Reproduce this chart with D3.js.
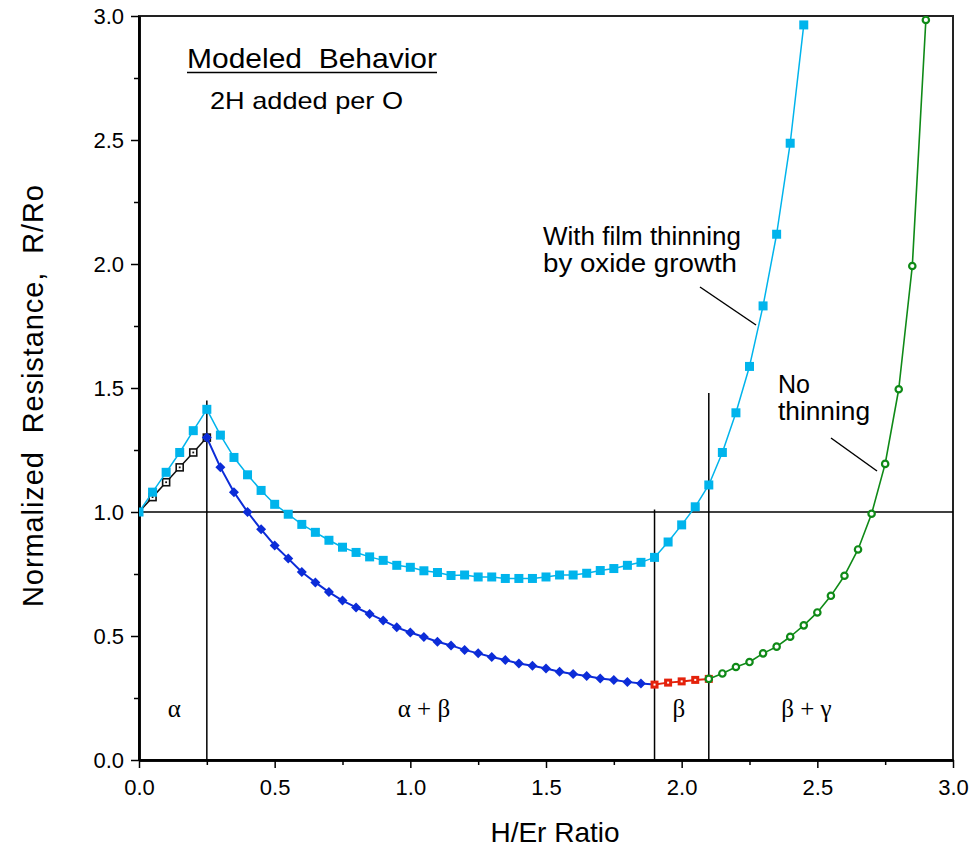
<!DOCTYPE html>
<html>
<head>
<meta charset="utf-8">
<script src="https://cdn.jsdelivr.net/npm/d3@7"></script>
<style>
  html, body { margin: 0; padding: 0; background: #fff; }
  svg { display: block; }
  text { font-family: "Liberation Sans", Arial, Helvetica, sans-serif; fill: #000; }
  .greek { font-family: "Liberation Serif", "Times New Roman", serif; }
</style>
</head>
<body>
<svg id="chart" width="977" height="851"></svg>
<script>
// H/Er ratio sampled every 0.05; modeled normalized resistance R/Ro

// alpha phase, no thinning (0 – 0.25)
const alphaX = [0, 0.05, 0.10, 0.15, 0.20, 0.25];
const alphaR = [1.00, 1.06, 1.12, 1.18, 1.24, 1.30];

// alpha + beta, no thinning (0.25 – 1.85)
const abX = [0.25, 0.30, 0.35, 0.40, 0.45, 0.50, 0.55, 0.60, 0.65, 0.70, 0.75, 0.80,
             0.85, 0.90, 0.95, 1.00, 1.05, 1.10, 1.15, 1.20, 1.25, 1.30, 1.35, 1.40,
             1.45, 1.50, 1.55, 1.60, 1.65, 1.70, 1.75, 1.80, 1.85];
const abR = [1.30, 1.18, 1.08, 1.00, 0.93, 0.865, 0.812, 0.758, 0.716, 0.677, 0.643, 0.615,
             0.589, 0.563, 0.535, 0.514, 0.496, 0.477, 0.462, 0.444, 0.430, 0.415, 0.403, 0.389,
             0.380, 0.369, 0.356, 0.347, 0.339, 0.329, 0.323, 0.315, 0.308];

// beta phase, no thinning (1.9 – 2.1)
const betaX = [1.90, 1.95, 2.00, 2.05, 2.10];
const betaR = [0.304, 0.312, 0.317, 0.323, 0.327];

// beta + gamma, no thinning (2.1 – 2.9)
const bgX = [2.10, 2.15, 2.20, 2.25, 2.30, 2.35, 2.40, 2.45, 2.50, 2.55, 2.60, 2.65,
             2.70, 2.75, 2.80, 2.85, 2.90];
const bgR = [0.327, 0.349, 0.375, 0.395, 0.430, 0.457, 0.497, 0.543, 0.595, 0.662, 0.743, 0.849,
             0.993, 1.194, 1.495, 1.992, 2.984];

// with film thinning by oxide growth (0 – 2.45)
const thinX = [0, 0.05, 0.10, 0.15, 0.20, 0.25, 0.30, 0.35, 0.40, 0.45, 0.50, 0.55,
               0.60, 0.65, 0.70, 0.75, 0.80, 0.85, 0.90, 0.95, 1.00, 1.05, 1.10, 1.15,
               1.20, 1.25, 1.30, 1.35, 1.40, 1.45, 1.50, 1.55, 1.60, 1.65, 1.70, 1.75,
               1.80, 1.85, 1.90, 1.95, 2.00, 2.05, 2.10, 2.15, 2.20, 2.25, 2.30, 2.35,
               2.40, 2.45];
const thinR = [1.00, 1.08, 1.16, 1.24, 1.328, 1.414, 1.31, 1.22, 1.15, 1.087, 1.031, 0.991,
               0.950, 0.918, 0.886, 0.858, 0.837, 0.819, 0.805, 0.785, 0.777, 0.763, 0.756, 0.744,
               0.746, 0.738, 0.738, 0.732, 0.732, 0.732, 0.738, 0.746, 0.746, 0.753, 0.764, 0.772,
               0.785, 0.797, 0.817, 0.879, 0.948, 1.021, 1.109, 1.240, 1.400, 1.587, 1.831, 2.120,
               2.487, 2.964];

// phase boundaries: x position and top of each marker line
const boundaryX = [0.25, 1.90, 2.10];
const boundaryTop = [1.45, 1.01, 1.48];

const xTicks = [0, 0.5, 1.0, 1.5, 2.0, 2.5, 3.0];
const yTicks = [0, 0.5, 1.0, 1.5, 2.0, 2.5, 3.0];
const minorTicks = [0.25, 0.75, 1.25, 1.75, 2.25, 2.75];

const phaseLabels = ["α", "α + β", "β", "β + γ"];
const phaseLabelX = [0.13, 1.05, 1.99, 2.46];

const svg = d3.select("#chart");
const x = d3.scaleLinear().domain([0, 3]).range([139, 953]);
const y = d3.scaleLinear().domain([0, 3]).range([760, 16]);

const zip = (xs, ys) => xs.map((v, i) => [v, ys[i]]);
const alpha = zip(alphaX, alphaR);
const ab = zip(abX, abR);
const beta = zip(betaX, betaR);
const bg = zip(bgX, bgR);
const thin = zip(thinX, thinR);

svg.append("defs").append("clipPath").attr("id", "plot")
  .append("rect").attr("x", x(0)).attr("y", y(3)).attr("width", x(3) - x(0)).attr("height", y(0) - y(3));

// frame
svg.append("rect")
  .attr("x", x(0)).attr("y", y(3)).attr("width", x(3) - x(0)).attr("height", y(0) - y(3))
  .attr("fill", "none").attr("stroke", "#222").attr("stroke-width", 2);

// axes
const tickFont = g => g.selectAll("text").attr("font-size", 22)
  .attr("font-family", '"Liberation Sans", Arial, sans-serif').attr("fill", "#000");
const axisStyle = g => { g.select(".domain").attr("stroke", "#000").attr("stroke-width", 2.5);
                         g.selectAll(".tick line").attr("stroke", "#000").attr("stroke-width", 1.5); };

svg.append("g").attr("transform", `translate(0,${y(0)})`)
  .call(d3.axisBottom(x).tickValues(minorTicks).tickSize(5).tickFormat("").tickSizeOuter(0))
  .call(axisStyle);
svg.append("g").attr("transform", `translate(0,${y(0)})`)
  .call(d3.axisBottom(x).tickValues(xTicks).tickSize(8).tickPadding(11).tickFormat(d3.format(".1f")).tickSizeOuter(0))
  .call(axisStyle).call(tickFont);
svg.append("g").attr("transform", `translate(${x(0)},0)`)
  .call(d3.axisLeft(y).tickValues(minorTicks).tickSize(5).tickFormat("").tickSizeOuter(0))
  .call(axisStyle);
svg.append("g").attr("transform", `translate(${x(0)},0)`)
  .call(d3.axisLeft(y).tickValues(yTicks).tickSize(8).tickPadding(7).tickFormat(d3.format(".1f")).tickSizeOuter(0))
  .call(axisStyle).call(tickFont);

// axis titles
svg.append("text").attr("x", (x(0) + x(3)) / 2 + 9).attr("y", 842)
  .attr("text-anchor", "middle").attr("font-size", 28).text("H/Er Ratio");
svg.append("text").attr("transform", `translate(43,396) rotate(-90)`)
  .attr("text-anchor", "middle").attr("font-size", 29)
  .attr("textLength", 422).attr("lengthAdjust", "spacing")
  .text("Normalized\u00a0\u00a0Resistance,\u00a0\u00a0R/Ro");

const plot = svg.append("g").attr("clip-path", "url(#plot)");

// reference lines: R/Ro = 1 and phase boundaries
plot.append("line").attr("x1", x(0)).attr("x2", x(3)).attr("y1", y(1)).attr("y2", y(1))
  .attr("stroke", "#000").attr("stroke-width", 1.5);
plot.selectAll("line.boundary").data(boundaryX).join("line").attr("class", "boundary")
  .attr("x1", d => x(d)).attr("x2", d => x(d))
  .attr("y1", (d, i) => y(boundaryTop[i])).attr("y2", y(0))
  .attr("stroke", "#000").attr("stroke-width", 1.5);

const line = d3.line().x(d => x(d[0])).y(d => y(d[1]));
const colors = { black: "#111", blue: "#0c2cd8", red: "#e4220c", green: "#0f8a17", cyan: "#00b4ec" };

function path(data, color, w) {
  plot.append("path").datum(data).attr("d", line)
    .attr("fill", "none").attr("stroke", color).attr("stroke-width", w).attr("stroke-linejoin", "round");
}

// black: alpha, open squares with a dot
path(alpha, colors.black, 1.5);
plot.selectAll("rect.alpha").data(alpha.slice(1)).join("rect").attr("class", "alpha")
  .attr("x", d => x(d[0]) - 3.5).attr("y", d => y(d[1]) - 3.5).attr("width", 7).attr("height", 7)
  .attr("fill", "#fff").attr("stroke", colors.black).attr("stroke-width", 1.6);
plot.selectAll("rect.alphadot").data(alpha.slice(1)).join("rect").attr("class", "alphadot")
  .attr("x", d => x(d[0]) - 0.9).attr("y", d => y(d[1]) - 0.9).attr("width", 1.8).attr("height", 1.8)
  .attr("fill", colors.black);

// blue: alpha + beta, filled diamonds
path(ab.concat([beta[0]]), colors.blue, 2);
plot.selectAll("path.ab").data(ab).join("path").attr("class", "ab")
  .attr("transform", d => `translate(${x(d[0])},${y(d[1])})`)
  .attr("d", "M0,-5L5,0L0,5L-5,0Z").attr("fill", colors.blue);

// red: beta, squares with a white dot
path(beta, colors.red, 2);
plot.selectAll("rect.beta").data(beta).join("rect").attr("class", "beta")
  .attr("x", d => x(d[0]) - 4).attr("y", d => y(d[1]) - 4).attr("width", 8).attr("height", 8)
  .attr("fill", colors.red);
plot.selectAll("rect.betadot").data(beta).join("rect").attr("class", "betadot")
  .attr("x", d => x(d[0]) - 1).attr("y", d => y(d[1]) - 1).attr("width", 2).attr("height", 2)
  .attr("fill", "#fff");

// green: beta + gamma, open rings
path(bg, colors.green, 1.6);
plot.selectAll("circle.bg").data(bg).join("circle").attr("class", "bg")
  .attr("cx", d => x(d[0])).attr("cy", d => y(d[1])).attr("r", 3.2)
  .attr("fill", "#fff").attr("stroke", colors.green).attr("stroke-width", 2.2);

// cyan: with film thinning, filled squares
path(thin, colors.cyan, 1.5);
plot.selectAll("rect.thin").data(thin).join("rect").attr("class", "thin")
  .attr("x", d => x(d[0]) - 4.5).attr("y", d => y(d[1]) - 4.5).attr("width", 9).attr("height", 9)
  .attr("fill", colors.cyan);

// phase labels
svg.selectAll("text.greek").data(phaseLabels).join("text").attr("class", "greek")
  .attr("x", (d, i) => x(phaseLabelX[i])).attr("y", 717)
  .attr("text-anchor", "middle").attr("font-size", 25).text(d => d);

// annotations
svg.append("text").attr("x", 187).attr("y", 68).attr("font-size", 28)
  .attr("textLength", 250).attr("lengthAdjust", "spacingAndGlyphs")
  .text("Modeled\u00a0\u00a0Behavior");
svg.append("line").attr("x1", 187).attr("x2", 437).attr("y1", 72.5).attr("y2", 72.5)
  .attr("stroke", "#000").attr("stroke-width", 1.5);
svg.append("text").attr("x", 210).attr("y", 109).attr("font-size", 24)
  .attr("textLength", 193).attr("lengthAdjust", "spacingAndGlyphs").text("2H added per O");

svg.append("text").attr("x", 543).attr("y", 245).attr("font-size", 26).text("With film thinning");
svg.append("text").attr("x", 543).attr("y", 272).attr("font-size", 26)
  .attr("textLength", 194).attr("lengthAdjust", "spacingAndGlyphs").text("by oxide growth");
svg.append("line").attr("x1", 700).attr("y1", 287).attr("x2", 756).attr("y2", 325)
  .attr("stroke", "#000").attr("stroke-width", 1.5);

svg.append("text").attr("x", 778).attr("y", 393).attr("font-size", 25).text("No");
svg.append("text").attr("x", 778).attr("y", 420).attr("font-size", 25)
  .attr("textLength", 92).attr("lengthAdjust", "spacingAndGlyphs").text("thinning");
svg.append("line").attr("x1", 831).attr("y1", 438).attr("x2", 877).attr("y2", 471)
  .attr("stroke", "#000").attr("stroke-width", 1.5);
</script>
</body>
</html>
